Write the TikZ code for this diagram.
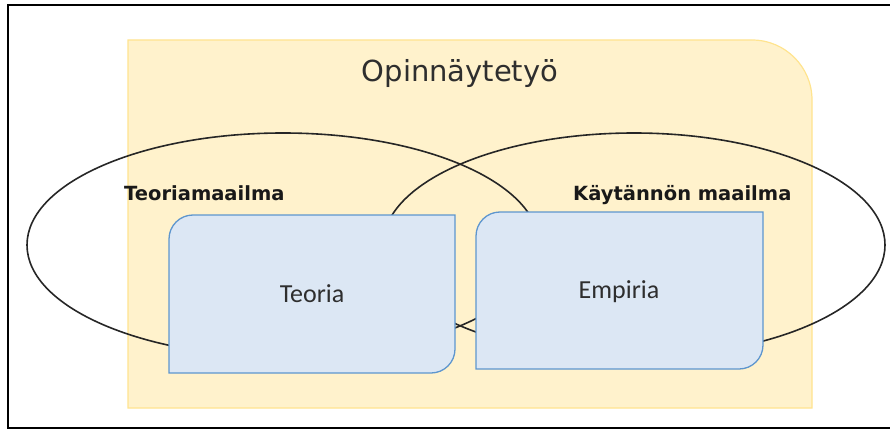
\documentclass[tikz,border=0pt]{standalone}
\usepackage{fontspec}
\setmainfont{DejaVu Sans}
\newfontfamily\boxfont{Carlito}
\usepackage{tikz}
\usetikzlibrary{shapes.geometric}
\usepackage{xcolor}
\definecolor{thesisfill}{HTML}{FFF2CC}
\definecolor{thesisline}{HTML}{FFE48F}
\definecolor{boxfill}{HTML}{DCE7F4}
\definecolor{boxline}{HTML}{5E96CE}
\definecolor{labeltext}{HTML}{2E2E2E}

\begin{document}
\begin{tikzpicture}[x=1pt,y=1pt,
  world/.style={ellipse,draw=black!85,line width=1.6pt,minimum width=#1,minimum height=224pt},
  worldlabel/.style={anchor=base west,inner sep=0pt,text=black!90,font=\bfseries\fontsize{19.5}{23}\selectfont},
  part/.style={fill=boxfill,draw=boxline,line width=1.3pt},
  partlabel/.style={anchor=base,inner sep=0pt,text=labeltext,font=\boxfont\fontsize{26}{30}\selectfont}]
  \useasboundingbox (0,0) rectangle (890,429);

  % frame
  \draw[line width=2pt] (890,424) -- (8,424) -- (8,1) -- (890,1);

  % thesis area
  \path[fill=thesisfill,draw=thesisline,line width=1.2pt] (128,21) -- (128,389) -- (752,389)
    arc[start angle=90,end angle=0,radius=60pt] -- (812,21) -- cycle;
  \node[anchor=base,inner sep=0pt,text=labeltext,font=\fontsize{29}{34}\selectfont] (thesis) at (460,347) {Opinnäytetyö};

  % the two worlds
  \node[world=512pt] (theoryworld) at (283,184) {};
  \node[world=502pt] (practiceworld) at (634,184) {};

  % parts
  \path[part] (169,56) -- (169,190) arc[start angle=180,end angle=90,radius=24pt]
    -- (455,214) -- (455,80) arc[start angle=0,end angle=-90,radius=24pt] -- cycle;
  \path[part] (476,60) -- (476,193) arc[start angle=180,end angle=90,radius=24pt]
    -- (763,217) -- (763,84) arc[start angle=0,end angle=-90,radius=24pt] -- cycle;

  \node[worldlabel] (theorylabel) at (124,229) {Teoriamaailma};
  \node[worldlabel] (practicelabel) at (573,229) {Käytännön maailma};
  \node[partlabel] (theory) at (312,127) {Teoria};
  \node[partlabel] (empiria) at (619,131) {Empiria};
\end{tikzpicture}
\end{document}
